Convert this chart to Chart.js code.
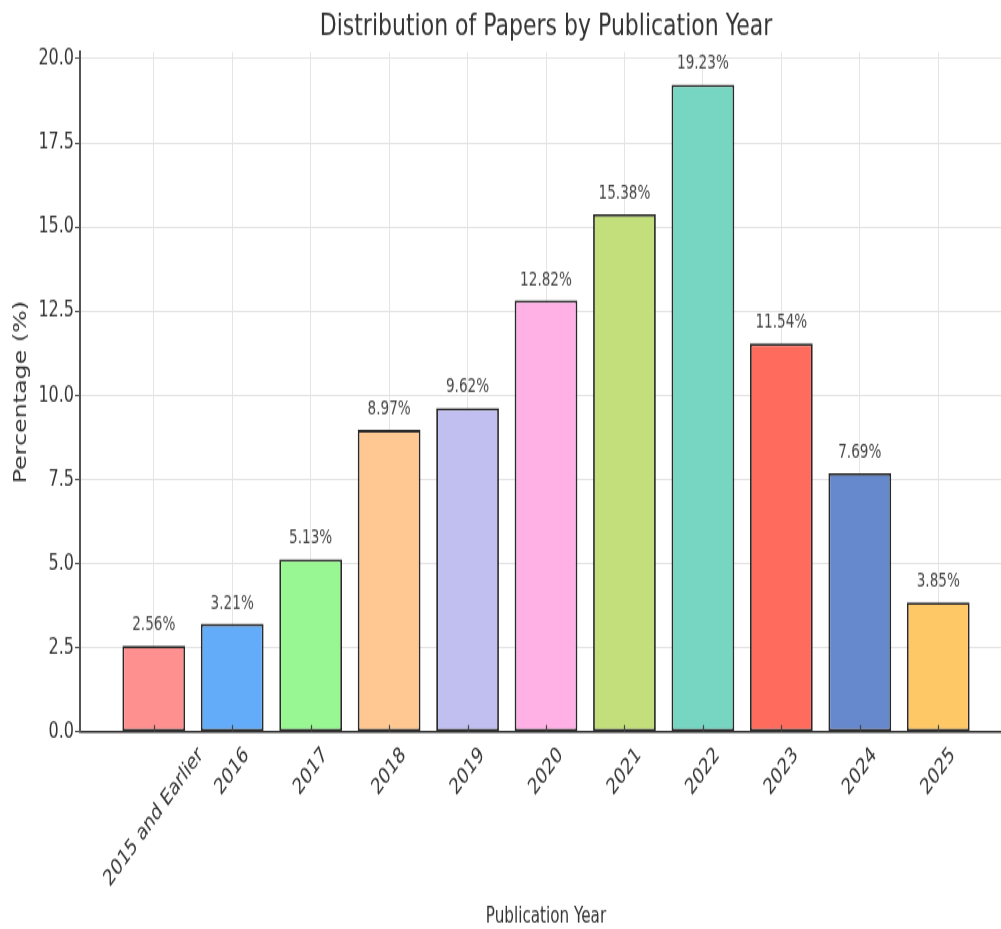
<!DOCTYPE html>
<html>
<head>
<meta charset="utf-8">
<title>Distribution of Papers by Publication Year</title>
<script src="https://cdn.jsdelivr.net/npm/chart.js@4.4.1/dist/chart.umd.min.js"></script>
<style>
  html, body { margin: 0; padding: 0; background: #ffffff; }
  body { width: 1001px; height: 929px; overflow: hidden; position: relative; }
  #frame {
    position: absolute;
    left: 0;
    top: 0;
    width: 1014px;
    height: 664px;
    transform: scaleY(1.4);
    transform-origin: 0 0;
  }
</style>
</head>
<body>
<div id="frame"><canvas id="chart"></canvas></div>
<script>
// Publication year buckets and the share of papers in each (percent)
const categories = ['2015 and Earlier', '2016', '2017', '2018', '2019', '2020', '2021', '2022', '2023', '2024', '2025'];
const percentages = [2.56, 3.21, 5.13, 8.97, 9.62, 12.82, 15.38, 19.23, 11.54, 7.69, 3.85];
const barColors = ['#ff9090', '#62acfa', '#98f792', '#ffc892', '#c0bff0', '#ffb1e6', '#c3df7b', '#77d6c2', '#ff6b5c', '#6688cc', '#ffc866'];
const yTickValues = [0, 2.5, 5, 7.5, 10, 12.5, 15, 17.5, 20];

const FONT = '"DejaVu Sans", "Liberation Sans", sans-serif';
Chart.defaults.font.family = FONT;
Chart.defaults.color = '#333333';

// Percentage printed above every bar
const valueLabels = {
  id: 'valueLabels',
  afterDatasetsDraw(chart) {
    const { ctx } = chart;
    const xs = chart.scales.x, ys = chart.scales.y;
    ctx.save();
    ctx.font = '13.6px ' + FONT;
    ctx.fillStyle = '#474747';
    ctx.textAlign = 'center';
    ctx.textBaseline = 'alphabetic';
    percentages.forEach((v, i) => {
      ctx.fillText(v.toFixed(2) + '%', xs.getPixelForValue(i), ys.getPixelForValue(v) - 11);
    });
    ctx.restore();
  }
};

// Category names under the axis, turned 45 degrees and centred on their bar,
// plus short inward tick marks at each bar centre
const categoryLabels = {
  id: 'categoryLabels',
  afterDraw(chart) {
    const { ctx, chartArea } = chart;
    const xs = chart.scales.x;
    const size = 16;
    ctx.save();
    ctx.strokeStyle = '#444444';
    ctx.lineWidth = 1.2;
    categories.forEach((_, i) => {
      const px = Math.round(xs.getPixelForValue(i)) + 0.5;
      ctx.beginPath();
      ctx.moveTo(px, chartArea.bottom);
      ctx.lineTo(px, chartArea.bottom - 5);
      ctx.stroke();
    });
    ctx.font = size + 'px ' + FONT;
    ctx.fillStyle = '#333333';
    ctx.textAlign = 'center';
    ctx.textBaseline = 'middle';
    const top = chartArea.bottom + 10;
    categories.forEach((label, i) => {
      const w = ctx.measureText(label).width;
      const half = (w + size * 0.73) / (2 * Math.SQRT2);
      ctx.save();
      ctx.translate(xs.getPixelForValue(i), top + half);
      ctx.rotate(-Math.PI / 4);
      ctx.fillText(label, 0, 0);
      ctx.restore();
    });
    ctx.restore();
  }
};

new Chart(document.getElementById('chart'), {
  type: 'bar',
  data: {
    datasets: [{
      data: percentages.map((v, i) => ({ x: i, y: v })),
      backgroundColor: barColors,
      borderColor: '#2a2a2a',
      borderWidth: 1.8,
      borderSkipped: false,
      barPercentage: 0.8,
      categoryPercentage: 1.0
    }]
  },
  options: {
    responsive: true,
    maintainAspectRatio: false,
    animation: false,
    events: [],
    layout: { padding: { left: 4, right: 2, top: 0, bottom: 0 } },
    plugins: {
      legend: { display: false },
      tooltip: { enabled: false },
      title: {
        display: true,
        text: 'Distribution of Papers by Publication Year',
        fullSize: false,
        color: '#333333',
        font: { size: 22, weight: 'normal', family: FONT },
        padding: { top: 6, bottom: 5 }
      }
    },
    scales: {
      x: {
        type: 'linear',
        offset: false,
        min: -0.94,
        max: categories.length - 1 + 0.94,
        afterBuildTicks(scale) {
          scale.ticks = categories.map((_, i) => ({ value: i }));
        },
        ticks: { display: false, stepSize: 1 },
        grid: { offset: false, color: '#e4e4e4', lineWidth: 1, drawTicks: false },
        border: { display: true, color: '#333333', width: 1.4 },
        title: {
          display: true,
          text: 'Publication Year',
          color: '#333333',
          font: { size: 15.2, family: FONT },
          padding: { top: 123, bottom: 0 }
        }
      },
      y: {
        min: 0,
        max: 20.19,
        afterBuildTicks(scale) {
          scale.ticks = yTickValues.map(v => ({ value: v }));
        },
        ticks: {
          padding: 1,
          color: '#333333',
          font: { size: 16, family: FONT },
          callback: v => Number(v).toFixed(1)
        },
        grid: { color: '#e4e4e4', lineWidth: 1, tickLength: 5, tickColor: '#555555' },
        border: { display: true, color: '#555555', width: 2 },
        title: {
          display: true,
          text: 'Percentage (%)',
          color: '#333333',
          font: { size: 17, family: FONT },
          padding: { top: 7, bottom: 6 }
        }
      }
    }
  },
  plugins: [valueLabels, categoryLabels]
});
</script>
</body>
</html>
